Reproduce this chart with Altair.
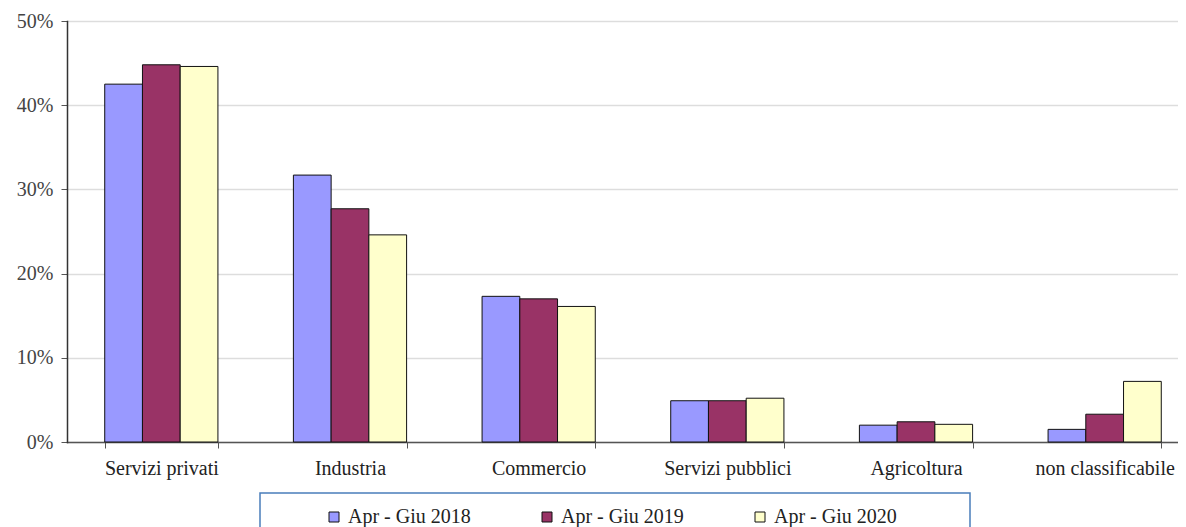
import altair as alt
import pandas as pd

categories = ["Servizi privati", "Industria", "Commercio", "Servizi pubblici", "Agricoltura", "non classificabile"]
series = ["Apr - Giu 2018", "Apr - Giu 2019", "Apr - Giu 2020"]
v2018 = [42.5, 31.7, 17.3, 4.9, 2.0, 1.5]
v2019 = [44.8, 27.7, 17.0, 4.9, 2.4, 3.3]
v2020 = [44.6, 24.6, 16.1, 5.2, 2.1, 7.2]
colors = ["#9999FF", "#993366", "#FFFFCC"]

rows = []
for s, vals in zip(series, [v2018, v2019, v2020]):
    for c, v in zip(categories, vals):
        rows.append({"cat": c, "serie": s, "val": v / 100})
df = pd.DataFrame(rows)

FONT = "'Liberation Serif', 'DejaVu Serif', serif"
PAD = "\u2800" * 4

chart = alt.Chart(df).mark_bar(stroke="#111111", strokeWidth=1).encode(
    x=alt.X("cat:N", sort=categories, title=None,
            scale=alt.Scale(paddingInner=0.4, paddingOuter=0.2, range=[0, 1132]),
            axis=alt.Axis(labelAngle=0, labelFont=FONT, labelFontSize=20, labelColor="#222222",
                          labelPadding=10, tickBand="extent", ticks=True, tickSize=6,
                          tickColor="#555555", domainColor="#555555", domainWidth=1.5,
                          grid=False, labelLimit=300)),
    xOffset=alt.XOffset("serie:N", sort=series),
    y=alt.Y("val:Q", title=None,
            scale=alt.Scale(domain=[0, 0.5]),
            axis=alt.Axis(format=".0%", values=[0, 0.1, 0.2, 0.3, 0.4, 0.5],
                          labelFont=FONT, labelFontSize=20, labelColor="#444444",
                          labelPadding=8, tickSize=6, tickColor="#555555",
                          domainColor="#333333", domainWidth=1.5,
                          gridColor="#dddddd", gridWidth=1.5)),
    fill=alt.Fill("serie:N", sort=series,
                  scale=alt.Scale(domain=series, range=colors),
                  legend=alt.Legend(orient="none", legendX=193, legendY=472,
                                    direction="horizontal", title=" ",
                                    titleOrient="left", titlePadding=50,
                                    titleFontSize=20, titleFont=FONT,
                                    symbolType="square", symbolSize=100,
                                    symbolStrokeColor="#111111", symbolStrokeWidth=1,
                                    labelFont=FONT, labelFontSize=20, labelColor="#222222",
                                    labelOffset=4, labelLimit=400,
                                    labelExpr="datum.label + '" + PAD + "'",
                                    columnPadding=7, padding=14,
                                    strokeColor="#4a7ebb",
                                    fillColor="white")),
).properties(
    width=1111, height=421,
    autosize=alt.AutoSizeParams(type="none"),
    padding={"left": 59, "top": 13, "right": 0, "bottom": 85},
).configure_view(stroke=None).configure_axis(domainCap="square").configure_legend(strokeWidth=1.5)

chart.save("out.html", embed_options={"renderer": "svg", "actions": False})
